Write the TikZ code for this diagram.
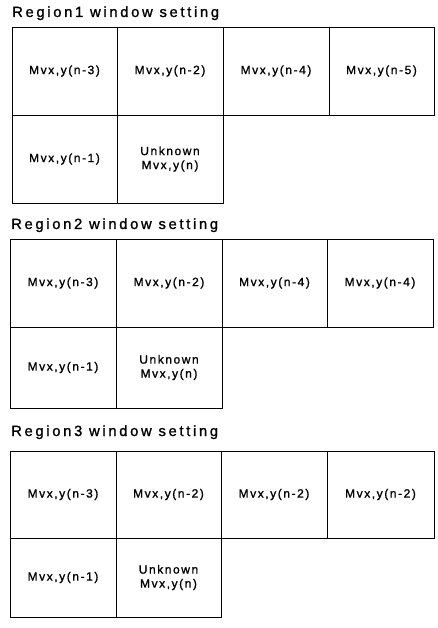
\documentclass[tikz,border=0pt]{standalone}
\usepackage{fontspec}
\setmainfont{Liberation Sans}
\newfontfamily\titlefont[LetterSpace=18,FakeBold=1.2]{Liberation Sans}
\newfontfamily\cellfont[LetterSpace=13,FakeBold=1.2]{Liberation Sans}

\tikzset{
  cell/.style={draw=black,line width=0.8pt,anchor=north west,inner sep=0pt,outer sep=0pt,
    minimum width=#1,minimum height=88pt,align=center,font=\cellfont\fontsize{12}{14}\selectfont},
  cell/.default=106pt,
  heading/.style={anchor=base west,inner sep=0pt,font=\titlefont\fontsize{14.8}{16}\selectfont}
}

\begin{document}
\begin{tikzpicture}[x=1pt,y=-1pt]
\useasboundingbox[fill=white] (0,0) rectangle (437,628);
% region 1
\node[heading] (t1) at (12,17) {Region1 window setting};
\node[cell=105pt] (r1a) at (12,27) {Mvx,y(n-3)};
\node[cell] (r1b) at (117,27) {Mvx,y(n-2)};
\node[cell] (r1c) at (223,27) {Mvx,y(n-4)};
\node[cell=105pt] (r1d) at (329,27) {Mvx,y(n-5)};
\node[cell=105pt] (r1e) at (12,115) {Mvx,y(n-1)};
\node[cell] (r1f) at (117,115) {Unknown\\Mvx,y(n)};
% region 2
\node[heading] (t2) at (11,229) {Region2 window setting};
\node[cell] (r2a) at (10,239) {Mvx,y(n-3)};
\node[cell] (r2b) at (116,239) {Mvx,y(n-2)};
\node[cell=105pt] (r2c) at (222,239) {Mvx,y(n-4)};
\node[cell] (r2d) at (327,239) {Mvx,y(n-4)};
\node[cell,minimum height=81pt] (r2e) at (10,327) {Mvx,y(n-1)};
\node[cell,minimum height=81pt] (r2f) at (116,327) {Unknown\\Mvx,y(n)};
% region 3
\node[heading] (t3) at (11,436) {Region3 window setting};
\node[cell,minimum height=87pt] (r3a) at (10,451) {Mvx,y(n-3)};
\node[cell=105pt,minimum height=87pt] (r3b) at (116,451) {Mvx,y(n-2)};
\node[cell,minimum height=87pt] (r3c) at (221,451) {Mvx,y(n-2)};
\node[cell=107pt,minimum height=87pt] (r3d) at (327,451) {Mvx,y(n-2)};
\node[cell,minimum height=79pt] (r3e) at (10,538) {Mvx,y(n-1)};
\node[cell=105pt,minimum height=79pt] (r3f) at (116,538) {Unknown\\Mvx,y(n)};
\end{tikzpicture}
\end{document}
